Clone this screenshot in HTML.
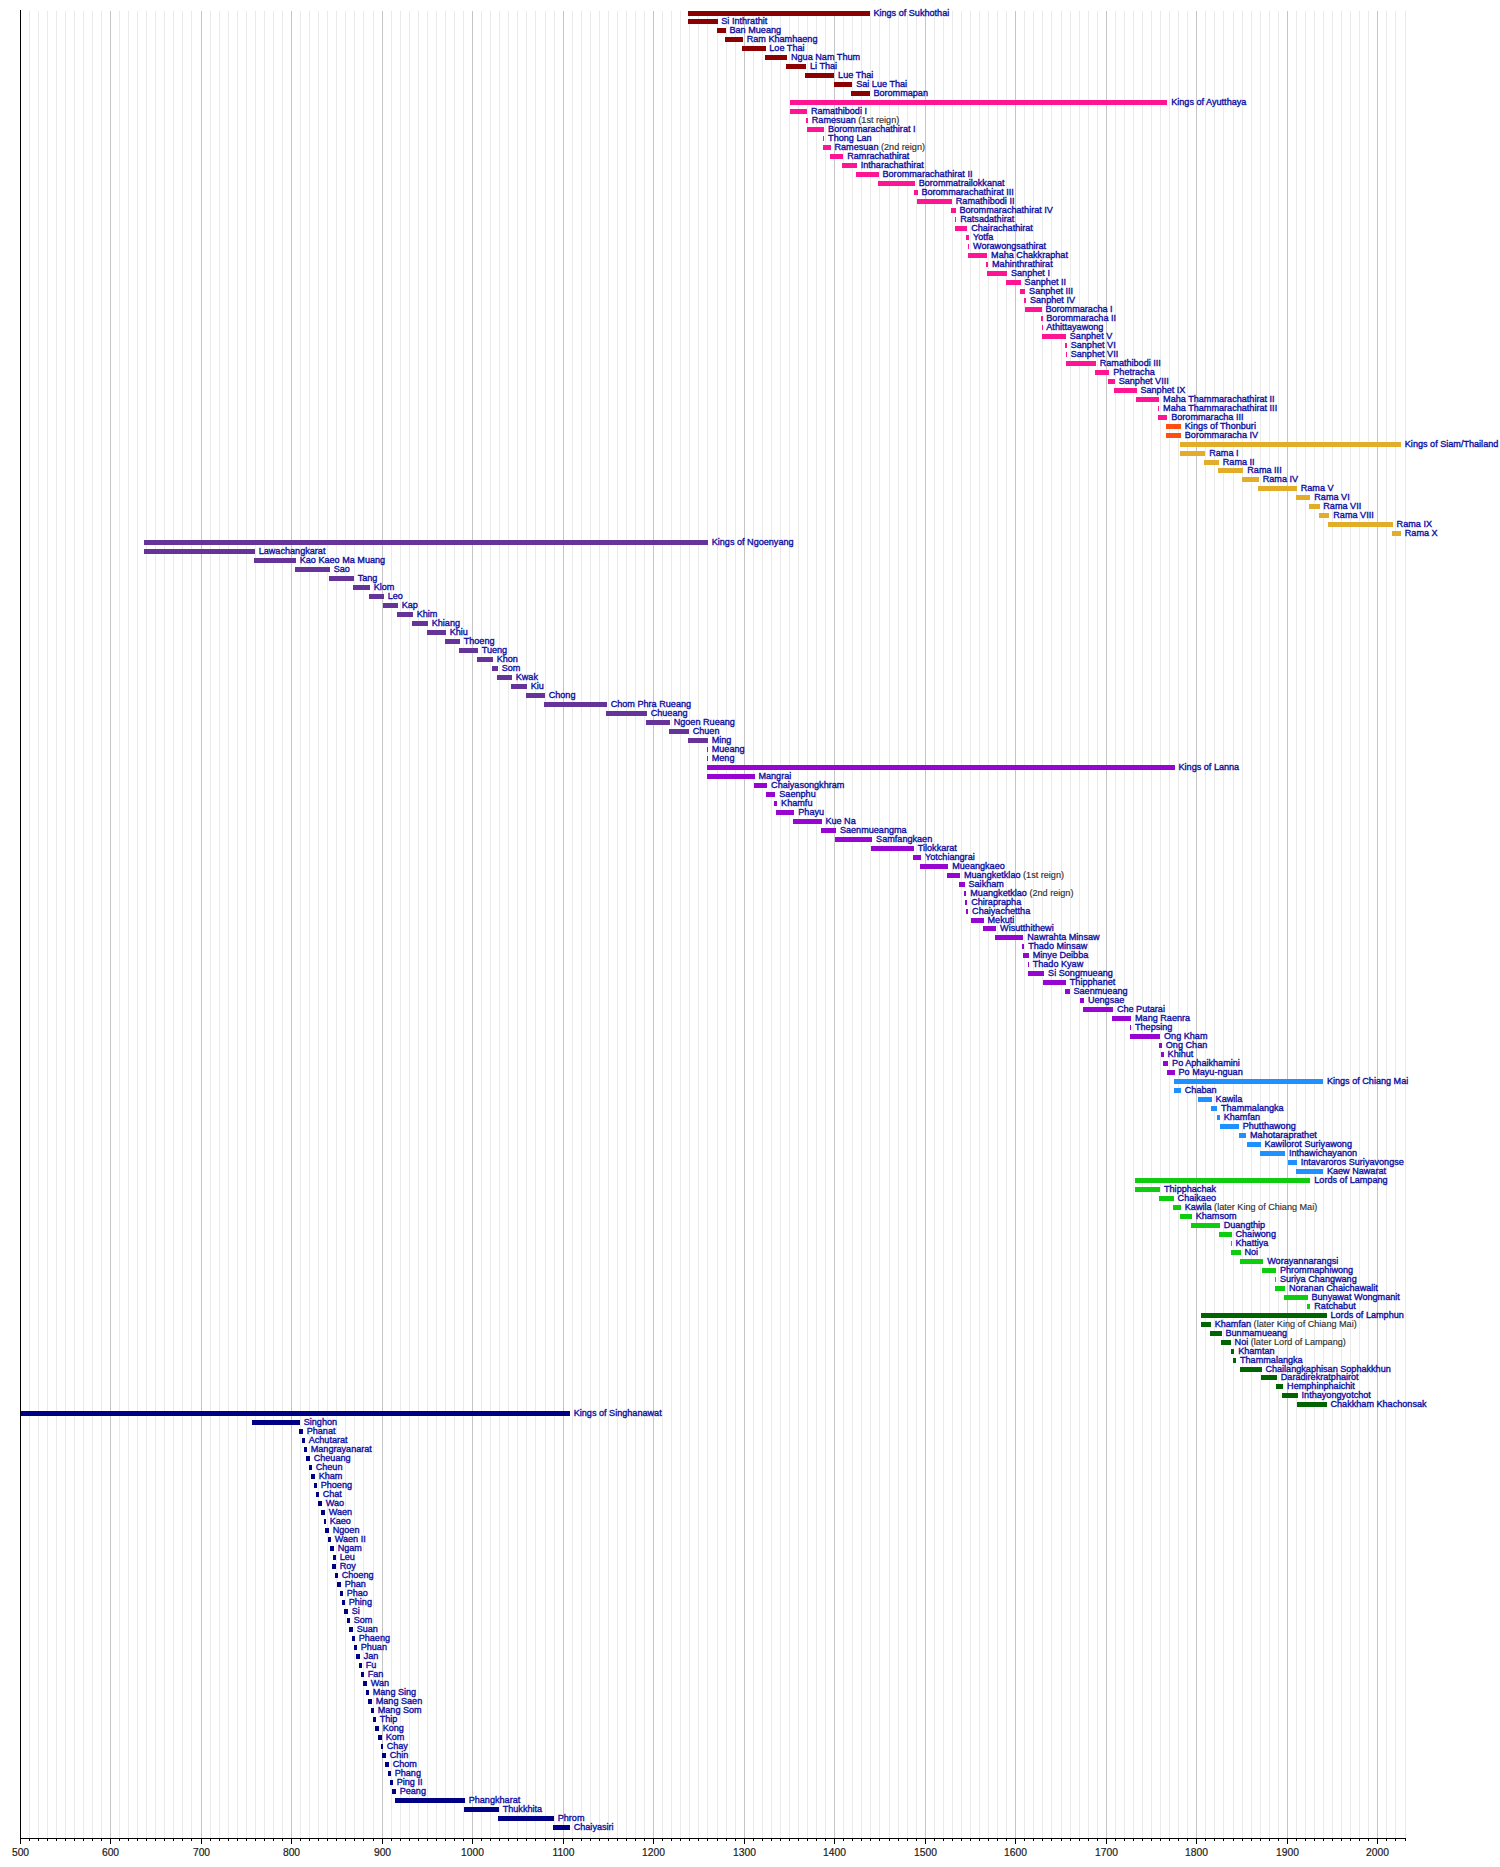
<!DOCTYPE html>
<html lang="en"><head><meta charset="utf-8"><title>Timeline of Thai monarchs</title>
<style>html,body{margin:0;padding:0;background:#fff}svg{display:block}.l{font-family:"Liberation Sans",Arial,Helvetica,sans-serif;font-size:9.1px;fill:#0e0ea0;stroke:#0e0ea0;stroke-width:0.35px}.g{fill:#303030;stroke:#303030;stroke-width:0.15px}.a{font-family:"Liberation Sans",Arial,Helvetica,sans-serif;font-size:10.3px;fill:#1c1c1c;stroke:#1c1c1c;stroke-width:0.2px;text-anchor:middle}</style></head><body>
<svg width="1500" height="1867" viewBox="0 0 1500 1867">
<rect width="1500" height="1867" fill="#fff"/>
<g shape-rendering="crispEdges">
<g fill="#eaeaea"><rect x="29" y="11" width="1" height="1827"/><rect x="38" y="11" width="1" height="1827"/><rect x="47" y="11" width="1" height="1827"/><rect x="56" y="11" width="1" height="1827"/><rect x="65" y="11" width="1" height="1827"/><rect x="74" y="11" width="1" height="1827"/><rect x="83" y="11" width="1" height="1827"/><rect x="92" y="11" width="1" height="1827"/><rect x="101" y="11" width="1" height="1827"/><rect x="119" y="11" width="1" height="1827"/><rect x="128" y="11" width="1" height="1827"/><rect x="137" y="11" width="1" height="1827"/><rect x="146" y="11" width="1" height="1827"/><rect x="155" y="11" width="1" height="1827"/><rect x="164" y="11" width="1" height="1827"/><rect x="173" y="11" width="1" height="1827"/><rect x="182" y="11" width="1" height="1827"/><rect x="191" y="11" width="1" height="1827"/><rect x="210" y="11" width="1" height="1827"/><rect x="219" y="11" width="1" height="1827"/><rect x="228" y="11" width="1" height="1827"/><rect x="237" y="11" width="1" height="1827"/><rect x="246" y="11" width="1" height="1827"/><rect x="255" y="11" width="1" height="1827"/><rect x="264" y="11" width="1" height="1827"/><rect x="273" y="11" width="1" height="1827"/><rect x="282" y="11" width="1" height="1827"/><rect x="300" y="11" width="1" height="1827"/><rect x="309" y="11" width="1" height="1827"/><rect x="318" y="11" width="1" height="1827"/><rect x="327" y="11" width="1" height="1827"/><rect x="336" y="11" width="1" height="1827"/><rect x="345" y="11" width="1" height="1827"/><rect x="354" y="11" width="1" height="1827"/><rect x="363" y="11" width="1" height="1827"/><rect x="373" y="11" width="1" height="1827"/><rect x="391" y="11" width="1" height="1827"/><rect x="400" y="11" width="1" height="1827"/><rect x="409" y="11" width="1" height="1827"/><rect x="418" y="11" width="1" height="1827"/><rect x="427" y="11" width="1" height="1827"/><rect x="436" y="11" width="1" height="1827"/><rect x="445" y="11" width="1" height="1827"/><rect x="454" y="11" width="1" height="1827"/><rect x="463" y="11" width="1" height="1827"/><rect x="481" y="11" width="1" height="1827"/><rect x="490" y="11" width="1" height="1827"/><rect x="499" y="11" width="1" height="1827"/><rect x="508" y="11" width="1" height="1827"/><rect x="517" y="11" width="1" height="1827"/><rect x="526" y="11" width="1" height="1827"/><rect x="535" y="11" width="1" height="1827"/><rect x="545" y="11" width="1" height="1827"/><rect x="554" y="11" width="1" height="1827"/><rect x="572" y="11" width="1" height="1827"/><rect x="581" y="11" width="1" height="1827"/><rect x="590" y="11" width="1" height="1827"/><rect x="599" y="11" width="1" height="1827"/><rect x="608" y="11" width="1" height="1827"/><rect x="617" y="11" width="1" height="1827"/><rect x="626" y="11" width="1" height="1827"/><rect x="635" y="11" width="1" height="1827"/><rect x="644" y="11" width="1" height="1827"/><rect x="662" y="11" width="1" height="1827"/><rect x="671" y="11" width="1" height="1827"/><rect x="680" y="11" width="1" height="1827"/><rect x="689" y="11" width="1" height="1827"/><rect x="698" y="11" width="1" height="1827"/><rect x="707" y="11" width="1" height="1827"/><rect x="717" y="11" width="1" height="1827"/><rect x="726" y="11" width="1" height="1827"/><rect x="735" y="11" width="1" height="1827"/><rect x="753" y="11" width="1" height="1827"/><rect x="762" y="11" width="1" height="1827"/><rect x="771" y="11" width="1" height="1827"/><rect x="780" y="11" width="1" height="1827"/><rect x="789" y="11" width="1" height="1827"/><rect x="798" y="11" width="1" height="1827"/><rect x="807" y="11" width="1" height="1827"/><rect x="816" y="11" width="1" height="1827"/><rect x="825" y="11" width="1" height="1827"/><rect x="843" y="11" width="1" height="1827"/><rect x="852" y="11" width="1" height="1827"/><rect x="861" y="11" width="1" height="1827"/><rect x="870" y="11" width="1" height="1827"/><rect x="879" y="11" width="1" height="1827"/><rect x="889" y="11" width="1" height="1827"/><rect x="898" y="11" width="1" height="1827"/><rect x="907" y="11" width="1" height="1827"/><rect x="916" y="11" width="1" height="1827"/><rect x="934" y="11" width="1" height="1827"/><rect x="943" y="11" width="1" height="1827"/><rect x="952" y="11" width="1" height="1827"/><rect x="961" y="11" width="1" height="1827"/><rect x="970" y="11" width="1" height="1827"/><rect x="979" y="11" width="1" height="1827"/><rect x="988" y="11" width="1" height="1827"/><rect x="997" y="11" width="1" height="1827"/><rect x="1006" y="11" width="1" height="1827"/><rect x="1024" y="11" width="1" height="1827"/><rect x="1033" y="11" width="1" height="1827"/><rect x="1042" y="11" width="1" height="1827"/><rect x="1051" y="11" width="1" height="1827"/><rect x="1061" y="11" width="1" height="1827"/><rect x="1070" y="11" width="1" height="1827"/><rect x="1079" y="11" width="1" height="1827"/><rect x="1088" y="11" width="1" height="1827"/><rect x="1097" y="11" width="1" height="1827"/><rect x="1115" y="11" width="1" height="1827"/><rect x="1124" y="11" width="1" height="1827"/><rect x="1133" y="11" width="1" height="1827"/><rect x="1142" y="11" width="1" height="1827"/><rect x="1151" y="11" width="1" height="1827"/><rect x="1160" y="11" width="1" height="1827"/><rect x="1169" y="11" width="1" height="1827"/><rect x="1178" y="11" width="1" height="1827"/><rect x="1187" y="11" width="1" height="1827"/><rect x="1205" y="11" width="1" height="1827"/><rect x="1214" y="11" width="1" height="1827"/><rect x="1223" y="11" width="1" height="1827"/><rect x="1233" y="11" width="1" height="1827"/><rect x="1242" y="11" width="1" height="1827"/><rect x="1251" y="11" width="1" height="1827"/><rect x="1260" y="11" width="1" height="1827"/><rect x="1269" y="11" width="1" height="1827"/><rect x="1278" y="11" width="1" height="1827"/><rect x="1296" y="11" width="1" height="1827"/><rect x="1305" y="11" width="1" height="1827"/><rect x="1314" y="11" width="1" height="1827"/><rect x="1323" y="11" width="1" height="1827"/><rect x="1332" y="11" width="1" height="1827"/><rect x="1341" y="11" width="1" height="1827"/><rect x="1350" y="11" width="1" height="1827"/><rect x="1359" y="11" width="1" height="1827"/><rect x="1368" y="11" width="1" height="1827"/><rect x="1386" y="11" width="1" height="1827"/><rect x="1395" y="11" width="1" height="1827"/><rect x="1405" y="11" width="1" height="1827"/></g>
<g fill="#c5c5c5"><rect x="110" y="11" width="1" height="1827"/><rect x="201" y="11" width="1" height="1827"/><rect x="291" y="11" width="1" height="1827"/><rect x="382" y="11" width="1" height="1827"/><rect x="472" y="11" width="1" height="1827"/><rect x="563" y="11" width="1" height="1827"/><rect x="653" y="11" width="1" height="1827"/><rect x="744" y="11" width="1" height="1827"/><rect x="834" y="11" width="1" height="1827"/><rect x="925" y="11" width="1" height="1827"/><rect x="1015" y="11" width="1" height="1827"/><rect x="1106" y="11" width="1" height="1827"/><rect x="1196" y="11" width="1" height="1827"/><rect x="1287" y="11" width="1" height="1827"/><rect x="1377" y="11" width="1" height="1827"/></g>
<rect x="688" y="11" width="182" height="5" fill="#8b0000"/>
<rect x="688" y="19" width="30" height="5" fill="#8b0000"/>
<rect x="717" y="28" width="9" height="5" fill="#8b0000"/>
<rect x="725" y="37" width="18" height="5" fill="#8b0000"/>
<rect x="742" y="46" width="24" height="5" fill="#8b0000"/>
<rect x="765" y="55" width="22" height="5" fill="#8b0000"/>
<rect x="786" y="64" width="20" height="5" fill="#8b0000"/>
<rect x="805" y="73" width="29" height="5" fill="#8b0000"/>
<rect x="834" y="82" width="18" height="5" fill="#8b0000"/>
<rect x="851" y="91" width="19" height="5" fill="#8b0000"/>
<rect x="790" y="100" width="377" height="5" fill="#ff1493"/>
<rect x="790" y="109" width="17" height="5" fill="#ff1493"/>
<rect x="806" y="118" width="2" height="5" fill="#ff1493"/>
<rect x="807" y="127" width="17" height="5" fill="#ff1493"/>
<rect x="823" y="136" width="1" height="5" fill="#ff1493"/>
<rect x="823" y="145" width="8" height="5" fill="#ff1493"/>
<rect x="830" y="154" width="13" height="5" fill="#ff1493"/>
<rect x="842" y="163" width="15" height="5" fill="#ff1493"/>
<rect x="856" y="172" width="23" height="5" fill="#ff1493"/>
<rect x="878" y="181" width="37" height="5" fill="#ff1493"/>
<rect x="914" y="190" width="4" height="5" fill="#ff1493"/>
<rect x="917" y="199" width="35" height="5" fill="#ff1493"/>
<rect x="951" y="208" width="5" height="5" fill="#ff1493"/>
<rect x="955" y="217" width="1" height="5" fill="#ff1493"/>
<rect x="955" y="226" width="12" height="5" fill="#ff1493"/>
<rect x="966" y="235" width="3" height="5" fill="#ff1493"/>
<rect x="968" y="244" width="1" height="5" fill="#ff1493"/>
<rect x="968" y="253" width="19" height="5" fill="#ff1493"/>
<rect x="986" y="262" width="2" height="5" fill="#ff1493"/>
<rect x="987" y="271" width="20" height="5" fill="#ff1493"/>
<rect x="1006" y="280" width="15" height="5" fill="#ff1493"/>
<rect x="1020" y="289" width="5" height="5" fill="#ff1493"/>
<rect x="1024" y="298" width="2" height="5" fill="#ff1493"/>
<rect x="1025" y="307" width="17" height="5" fill="#ff1493"/>
<rect x="1041" y="316" width="2" height="5" fill="#ff1493"/>
<rect x="1042" y="325" width="1" height="5" fill="#ff1493"/>
<rect x="1042" y="334" width="24" height="5" fill="#ff1493"/>
<rect x="1065" y="343" width="2" height="5" fill="#ff1493"/>
<rect x="1066" y="352" width="1" height="5" fill="#ff1493"/>
<rect x="1066" y="361" width="30" height="5" fill="#ff1493"/>
<rect x="1095" y="370" width="14" height="5" fill="#ff1493"/>
<rect x="1108" y="379" width="7" height="5" fill="#ff1493"/>
<rect x="1114" y="388" width="23" height="5" fill="#ff1493"/>
<rect x="1136" y="397" width="23" height="5" fill="#ff1493"/>
<rect x="1158" y="406" width="1" height="5" fill="#ff1493"/>
<rect x="1158" y="415" width="9" height="5" fill="#ff1493"/>
<rect x="1166" y="424" width="15" height="5" fill="#ff4f10"/>
<rect x="1166" y="433" width="15" height="5" fill="#ff4f10"/>
<rect x="1180" y="442" width="221" height="5" fill="#e2ae2a"/>
<rect x="1180" y="451" width="25" height="5" fill="#e2ae2a"/>
<rect x="1204" y="460" width="15" height="5" fill="#e2ae2a"/>
<rect x="1218" y="468" width="25" height="5" fill="#e2ae2a"/>
<rect x="1242" y="477" width="17" height="5" fill="#e2ae2a"/>
<rect x="1258" y="486" width="39" height="5" fill="#e2ae2a"/>
<rect x="1296" y="495" width="14" height="5" fill="#e2ae2a"/>
<rect x="1309" y="504" width="11" height="5" fill="#e2ae2a"/>
<rect x="1319" y="513" width="10" height="5" fill="#e2ae2a"/>
<rect x="1328" y="522" width="65" height="5" fill="#e2ae2a"/>
<rect x="1392" y="531" width="9" height="5" fill="#e2ae2a"/>
<rect x="144" y="540" width="564" height="5" fill="#663399"/>
<rect x="144" y="549" width="111" height="5" fill="#663399"/>
<rect x="254" y="558" width="42" height="5" fill="#663399"/>
<rect x="295" y="567" width="35" height="5" fill="#663399"/>
<rect x="329" y="576" width="25" height="5" fill="#663399"/>
<rect x="353" y="585" width="17" height="5" fill="#663399"/>
<rect x="369" y="594" width="15" height="5" fill="#663399"/>
<rect x="383" y="603" width="15" height="5" fill="#663399"/>
<rect x="397" y="612" width="16" height="5" fill="#663399"/>
<rect x="412" y="621" width="16" height="5" fill="#663399"/>
<rect x="427" y="630" width="19" height="5" fill="#663399"/>
<rect x="445" y="639" width="15" height="5" fill="#663399"/>
<rect x="459" y="648" width="19" height="5" fill="#663399"/>
<rect x="477" y="657" width="16" height="5" fill="#663399"/>
<rect x="492" y="666" width="6" height="5" fill="#663399"/>
<rect x="497" y="675" width="15" height="5" fill="#663399"/>
<rect x="511" y="684" width="16" height="5" fill="#663399"/>
<rect x="526" y="693" width="19" height="5" fill="#663399"/>
<rect x="544" y="702" width="63" height="5" fill="#663399"/>
<rect x="606" y="711" width="41" height="5" fill="#663399"/>
<rect x="646" y="720" width="24" height="5" fill="#663399"/>
<rect x="669" y="729" width="20" height="5" fill="#663399"/>
<rect x="688" y="738" width="20" height="5" fill="#663399"/>
<rect x="707" y="747" width="1" height="5" fill="#663399"/>
<rect x="707" y="756" width="1" height="5" fill="#663399"/>
<rect x="707" y="765" width="468" height="5" fill="#9706d0"/>
<rect x="707" y="774" width="48" height="5" fill="#9706d0"/>
<rect x="754" y="783" width="13" height="5" fill="#9706d0"/>
<rect x="766" y="792" width="9" height="5" fill="#9706d0"/>
<rect x="774" y="801" width="3" height="5" fill="#9706d0"/>
<rect x="776" y="810" width="18" height="5" fill="#9706d0"/>
<rect x="793" y="819" width="29" height="5" fill="#9706d0"/>
<rect x="821" y="828" width="15" height="5" fill="#9706d0"/>
<rect x="835" y="837" width="37" height="5" fill="#9706d0"/>
<rect x="871" y="846" width="43" height="5" fill="#9706d0"/>
<rect x="913" y="855" width="8" height="5" fill="#9706d0"/>
<rect x="920" y="864" width="28" height="5" fill="#9706d0"/>
<rect x="947" y="873" width="13" height="5" fill="#9706d0"/>
<rect x="959" y="882" width="6" height="5" fill="#9706d0"/>
<rect x="964" y="891" width="2" height="5" fill="#9706d0"/>
<rect x="965" y="900" width="2" height="5" fill="#9706d0"/>
<rect x="966" y="909" width="2" height="5" fill="#9706d0"/>
<rect x="971" y="918" width="13" height="5" fill="#9706d0"/>
<rect x="983" y="926" width="13" height="5" fill="#9706d0"/>
<rect x="995" y="935" width="28" height="5" fill="#9706d0"/>
<rect x="1022" y="944" width="2" height="5" fill="#9706d0"/>
<rect x="1023" y="953" width="6" height="5" fill="#9706d0"/>
<rect x="1028" y="962" width="1" height="5" fill="#9706d0"/>
<rect x="1028" y="971" width="16" height="5" fill="#9706d0"/>
<rect x="1043" y="980" width="23" height="5" fill="#9706d0"/>
<rect x="1065" y="989" width="5" height="5" fill="#9706d0"/>
<rect x="1080" y="998" width="4" height="5" fill="#9706d0"/>
<rect x="1083" y="1007" width="30" height="5" fill="#9706d0"/>
<rect x="1112" y="1016" width="19" height="5" fill="#9706d0"/>
<rect x="1130" y="1025" width="1" height="5" fill="#9706d0"/>
<rect x="1130" y="1034" width="30" height="5" fill="#9706d0"/>
<rect x="1159" y="1043" width="3" height="5" fill="#9706d0"/>
<rect x="1161" y="1052" width="3" height="5" fill="#9706d0"/>
<rect x="1163" y="1061" width="5" height="5" fill="#9706d0"/>
<rect x="1167" y="1070" width="8" height="5" fill="#9706d0"/>
<rect x="1174" y="1079" width="149" height="5" fill="#1e90ff"/>
<rect x="1174" y="1088" width="7" height="5" fill="#1e90ff"/>
<rect x="1198" y="1097" width="14" height="5" fill="#1e90ff"/>
<rect x="1211" y="1106" width="6" height="5" fill="#1e90ff"/>
<rect x="1217" y="1115" width="3" height="5" fill="#1e90ff"/>
<rect x="1220" y="1124" width="19" height="5" fill="#1e90ff"/>
<rect x="1239" y="1133" width="7" height="5" fill="#1e90ff"/>
<rect x="1247" y="1142" width="14" height="5" fill="#1e90ff"/>
<rect x="1260" y="1151" width="25" height="5" fill="#1e90ff"/>
<rect x="1288" y="1160" width="9" height="5" fill="#1e90ff"/>
<rect x="1296" y="1169" width="27" height="5" fill="#1e90ff"/>
<rect x="1135" y="1178" width="175" height="5" fill="#10cc10"/>
<rect x="1135" y="1187" width="25" height="5" fill="#10cc10"/>
<rect x="1159" y="1196" width="15" height="5" fill="#10cc10"/>
<rect x="1173" y="1205" width="8" height="5" fill="#10cc10"/>
<rect x="1180" y="1214" width="12" height="5" fill="#10cc10"/>
<rect x="1191" y="1223" width="29" height="5" fill="#10cc10"/>
<rect x="1219" y="1232" width="13" height="5" fill="#10cc10"/>
<rect x="1231" y="1241" width="1" height="5" fill="#10cc10"/>
<rect x="1231" y="1250" width="10" height="5" fill="#10cc10"/>
<rect x="1240" y="1259" width="23" height="5" fill="#10cc10"/>
<rect x="1262" y="1268" width="14" height="5" fill="#10cc10"/>
<rect x="1275" y="1277" width="1" height="5" fill="#10cc10"/>
<rect x="1275" y="1286" width="10" height="5" fill="#10cc10"/>
<rect x="1284" y="1295" width="24" height="5" fill="#10cc10"/>
<rect x="1307" y="1304" width="3" height="5" fill="#10cc10"/>
<rect x="1201" y="1313" width="126" height="5" fill="#006400"/>
<rect x="1201" y="1322" width="10" height="5" fill="#006400"/>
<rect x="1210" y="1331" width="12" height="5" fill="#006400"/>
<rect x="1221" y="1340" width="10" height="5" fill="#006400"/>
<rect x="1231" y="1349" width="3" height="5" fill="#006400"/>
<rect x="1233" y="1358" width="3" height="5" fill="#006400"/>
<rect x="1240" y="1367" width="22" height="5" fill="#006400"/>
<rect x="1261" y="1375" width="16" height="5" fill="#006400"/>
<rect x="1276" y="1384" width="7" height="5" fill="#006400"/>
<rect x="1282" y="1393" width="16" height="5" fill="#006400"/>
<rect x="1297" y="1402" width="30" height="5" fill="#006400"/>
<rect x="20" y="1411" width="550" height="5" fill="#000084"/>
<rect x="252" y="1420" width="48" height="5" fill="#000084"/>
<rect x="299" y="1429" width="4" height="5" fill="#000084"/>
<rect x="302" y="1438" width="3" height="5" fill="#000084"/>
<rect x="304" y="1447" width="3" height="5" fill="#000084"/>
<rect x="306" y="1456" width="4" height="5" fill="#000084"/>
<rect x="309" y="1465" width="3" height="5" fill="#000084"/>
<rect x="311" y="1474" width="4" height="5" fill="#000084"/>
<rect x="314" y="1483" width="3" height="5" fill="#000084"/>
<rect x="316" y="1492" width="3" height="5" fill="#000084"/>
<rect x="318" y="1501" width="4" height="5" fill="#000084"/>
<rect x="321" y="1510" width="4" height="5" fill="#000084"/>
<rect x="324" y="1519" width="2" height="5" fill="#000084"/>
<rect x="325" y="1528" width="4" height="5" fill="#000084"/>
<rect x="328" y="1537" width="3" height="5" fill="#000084"/>
<rect x="330" y="1546" width="4" height="5" fill="#000084"/>
<rect x="333" y="1555" width="3" height="5" fill="#000084"/>
<rect x="332" y="1564" width="4" height="5" fill="#000084"/>
<rect x="335" y="1573" width="3" height="5" fill="#000084"/>
<rect x="337" y="1582" width="4" height="5" fill="#000084"/>
<rect x="340" y="1591" width="3" height="5" fill="#000084"/>
<rect x="342" y="1600" width="3" height="5" fill="#000084"/>
<rect x="344" y="1609" width="4" height="5" fill="#000084"/>
<rect x="347" y="1618" width="3" height="5" fill="#000084"/>
<rect x="349" y="1627" width="4" height="5" fill="#000084"/>
<rect x="352" y="1636" width="3" height="5" fill="#000084"/>
<rect x="354" y="1645" width="3" height="5" fill="#000084"/>
<rect x="356" y="1654" width="4" height="5" fill="#000084"/>
<rect x="359" y="1663" width="3" height="5" fill="#000084"/>
<rect x="361" y="1672" width="3" height="5" fill="#000084"/>
<rect x="363" y="1681" width="4" height="5" fill="#000084"/>
<rect x="366" y="1690" width="3" height="5" fill="#000084"/>
<rect x="368" y="1699" width="4" height="5" fill="#000084"/>
<rect x="371" y="1708" width="3" height="5" fill="#000084"/>
<rect x="373" y="1717" width="3" height="5" fill="#000084"/>
<rect x="375" y="1726" width="4" height="5" fill="#000084"/>
<rect x="378" y="1735" width="4" height="5" fill="#000084"/>
<rect x="381" y="1744" width="2" height="5" fill="#000084"/>
<rect x="382" y="1753" width="4" height="5" fill="#000084"/>
<rect x="385" y="1762" width="4" height="5" fill="#000084"/>
<rect x="388" y="1771" width="3" height="5" fill="#000084"/>
<rect x="390" y="1780" width="3" height="5" fill="#000084"/>
<rect x="392" y="1789" width="4" height="5" fill="#000084"/>
<rect x="395" y="1798" width="70" height="5" fill="#000084"/>
<rect x="464" y="1807" width="35" height="5" fill="#000084"/>
<rect x="498" y="1816" width="56" height="5" fill="#000084"/>
<rect x="553" y="1825" width="17" height="5" fill="#000084"/>
<rect x="20" y="10" width="1" height="1829" fill="#000"/>
<rect x="20" y="1838" width="1386" height="1" fill="#000"/>
<rect x="20" y="1839" width="1" height="5" fill="#000"/>
<rect x="29" y="1839" width="1" height="2" fill="#000"/>
<rect x="38" y="1839" width="1" height="2" fill="#000"/>
<rect x="47" y="1839" width="1" height="2" fill="#000"/>
<rect x="56" y="1839" width="1" height="2" fill="#000"/>
<rect x="65" y="1839" width="1" height="2" fill="#000"/>
<rect x="74" y="1839" width="1" height="2" fill="#000"/>
<rect x="83" y="1839" width="1" height="2" fill="#000"/>
<rect x="92" y="1839" width="1" height="2" fill="#000"/>
<rect x="101" y="1839" width="1" height="2" fill="#000"/>
<rect x="110" y="1839" width="1" height="5" fill="#000"/>
<rect x="119" y="1839" width="1" height="2" fill="#000"/>
<rect x="128" y="1839" width="1" height="2" fill="#000"/>
<rect x="137" y="1839" width="1" height="2" fill="#000"/>
<rect x="146" y="1839" width="1" height="2" fill="#000"/>
<rect x="155" y="1839" width="1" height="2" fill="#000"/>
<rect x="164" y="1839" width="1" height="2" fill="#000"/>
<rect x="173" y="1839" width="1" height="2" fill="#000"/>
<rect x="182" y="1839" width="1" height="2" fill="#000"/>
<rect x="191" y="1839" width="1" height="2" fill="#000"/>
<rect x="201" y="1839" width="1" height="5" fill="#000"/>
<rect x="210" y="1839" width="1" height="2" fill="#000"/>
<rect x="219" y="1839" width="1" height="2" fill="#000"/>
<rect x="228" y="1839" width="1" height="2" fill="#000"/>
<rect x="237" y="1839" width="1" height="2" fill="#000"/>
<rect x="246" y="1839" width="1" height="2" fill="#000"/>
<rect x="255" y="1839" width="1" height="2" fill="#000"/>
<rect x="264" y="1839" width="1" height="2" fill="#000"/>
<rect x="273" y="1839" width="1" height="2" fill="#000"/>
<rect x="282" y="1839" width="1" height="2" fill="#000"/>
<rect x="291" y="1839" width="1" height="5" fill="#000"/>
<rect x="300" y="1839" width="1" height="2" fill="#000"/>
<rect x="309" y="1839" width="1" height="2" fill="#000"/>
<rect x="318" y="1839" width="1" height="2" fill="#000"/>
<rect x="327" y="1839" width="1" height="2" fill="#000"/>
<rect x="336" y="1839" width="1" height="2" fill="#000"/>
<rect x="345" y="1839" width="1" height="2" fill="#000"/>
<rect x="354" y="1839" width="1" height="2" fill="#000"/>
<rect x="363" y="1839" width="1" height="2" fill="#000"/>
<rect x="373" y="1839" width="1" height="2" fill="#000"/>
<rect x="382" y="1839" width="1" height="5" fill="#000"/>
<rect x="391" y="1839" width="1" height="2" fill="#000"/>
<rect x="400" y="1839" width="1" height="2" fill="#000"/>
<rect x="409" y="1839" width="1" height="2" fill="#000"/>
<rect x="418" y="1839" width="1" height="2" fill="#000"/>
<rect x="427" y="1839" width="1" height="2" fill="#000"/>
<rect x="436" y="1839" width="1" height="2" fill="#000"/>
<rect x="445" y="1839" width="1" height="2" fill="#000"/>
<rect x="454" y="1839" width="1" height="2" fill="#000"/>
<rect x="463" y="1839" width="1" height="2" fill="#000"/>
<rect x="472" y="1839" width="1" height="5" fill="#000"/>
<rect x="481" y="1839" width="1" height="2" fill="#000"/>
<rect x="490" y="1839" width="1" height="2" fill="#000"/>
<rect x="499" y="1839" width="1" height="2" fill="#000"/>
<rect x="508" y="1839" width="1" height="2" fill="#000"/>
<rect x="517" y="1839" width="1" height="2" fill="#000"/>
<rect x="526" y="1839" width="1" height="2" fill="#000"/>
<rect x="535" y="1839" width="1" height="2" fill="#000"/>
<rect x="545" y="1839" width="1" height="2" fill="#000"/>
<rect x="554" y="1839" width="1" height="2" fill="#000"/>
<rect x="563" y="1839" width="1" height="5" fill="#000"/>
<rect x="572" y="1839" width="1" height="2" fill="#000"/>
<rect x="581" y="1839" width="1" height="2" fill="#000"/>
<rect x="590" y="1839" width="1" height="2" fill="#000"/>
<rect x="599" y="1839" width="1" height="2" fill="#000"/>
<rect x="608" y="1839" width="1" height="2" fill="#000"/>
<rect x="617" y="1839" width="1" height="2" fill="#000"/>
<rect x="626" y="1839" width="1" height="2" fill="#000"/>
<rect x="635" y="1839" width="1" height="2" fill="#000"/>
<rect x="644" y="1839" width="1" height="2" fill="#000"/>
<rect x="653" y="1839" width="1" height="5" fill="#000"/>
<rect x="662" y="1839" width="1" height="2" fill="#000"/>
<rect x="671" y="1839" width="1" height="2" fill="#000"/>
<rect x="680" y="1839" width="1" height="2" fill="#000"/>
<rect x="689" y="1839" width="1" height="2" fill="#000"/>
<rect x="698" y="1839" width="1" height="2" fill="#000"/>
<rect x="707" y="1839" width="1" height="2" fill="#000"/>
<rect x="717" y="1839" width="1" height="2" fill="#000"/>
<rect x="726" y="1839" width="1" height="2" fill="#000"/>
<rect x="735" y="1839" width="1" height="2" fill="#000"/>
<rect x="744" y="1839" width="1" height="5" fill="#000"/>
<rect x="753" y="1839" width="1" height="2" fill="#000"/>
<rect x="762" y="1839" width="1" height="2" fill="#000"/>
<rect x="771" y="1839" width="1" height="2" fill="#000"/>
<rect x="780" y="1839" width="1" height="2" fill="#000"/>
<rect x="789" y="1839" width="1" height="2" fill="#000"/>
<rect x="798" y="1839" width="1" height="2" fill="#000"/>
<rect x="807" y="1839" width="1" height="2" fill="#000"/>
<rect x="816" y="1839" width="1" height="2" fill="#000"/>
<rect x="825" y="1839" width="1" height="2" fill="#000"/>
<rect x="834" y="1839" width="1" height="5" fill="#000"/>
<rect x="843" y="1839" width="1" height="2" fill="#000"/>
<rect x="852" y="1839" width="1" height="2" fill="#000"/>
<rect x="861" y="1839" width="1" height="2" fill="#000"/>
<rect x="870" y="1839" width="1" height="2" fill="#000"/>
<rect x="879" y="1839" width="1" height="2" fill="#000"/>
<rect x="889" y="1839" width="1" height="2" fill="#000"/>
<rect x="898" y="1839" width="1" height="2" fill="#000"/>
<rect x="907" y="1839" width="1" height="2" fill="#000"/>
<rect x="916" y="1839" width="1" height="2" fill="#000"/>
<rect x="925" y="1839" width="1" height="5" fill="#000"/>
<rect x="934" y="1839" width="1" height="2" fill="#000"/>
<rect x="943" y="1839" width="1" height="2" fill="#000"/>
<rect x="952" y="1839" width="1" height="2" fill="#000"/>
<rect x="961" y="1839" width="1" height="2" fill="#000"/>
<rect x="970" y="1839" width="1" height="2" fill="#000"/>
<rect x="979" y="1839" width="1" height="2" fill="#000"/>
<rect x="988" y="1839" width="1" height="2" fill="#000"/>
<rect x="997" y="1839" width="1" height="2" fill="#000"/>
<rect x="1006" y="1839" width="1" height="2" fill="#000"/>
<rect x="1015" y="1839" width="1" height="5" fill="#000"/>
<rect x="1024" y="1839" width="1" height="2" fill="#000"/>
<rect x="1033" y="1839" width="1" height="2" fill="#000"/>
<rect x="1042" y="1839" width="1" height="2" fill="#000"/>
<rect x="1051" y="1839" width="1" height="2" fill="#000"/>
<rect x="1061" y="1839" width="1" height="2" fill="#000"/>
<rect x="1070" y="1839" width="1" height="2" fill="#000"/>
<rect x="1079" y="1839" width="1" height="2" fill="#000"/>
<rect x="1088" y="1839" width="1" height="2" fill="#000"/>
<rect x="1097" y="1839" width="1" height="2" fill="#000"/>
<rect x="1106" y="1839" width="1" height="5" fill="#000"/>
<rect x="1115" y="1839" width="1" height="2" fill="#000"/>
<rect x="1124" y="1839" width="1" height="2" fill="#000"/>
<rect x="1133" y="1839" width="1" height="2" fill="#000"/>
<rect x="1142" y="1839" width="1" height="2" fill="#000"/>
<rect x="1151" y="1839" width="1" height="2" fill="#000"/>
<rect x="1160" y="1839" width="1" height="2" fill="#000"/>
<rect x="1169" y="1839" width="1" height="2" fill="#000"/>
<rect x="1178" y="1839" width="1" height="2" fill="#000"/>
<rect x="1187" y="1839" width="1" height="2" fill="#000"/>
<rect x="1196" y="1839" width="1" height="5" fill="#000"/>
<rect x="1205" y="1839" width="1" height="2" fill="#000"/>
<rect x="1214" y="1839" width="1" height="2" fill="#000"/>
<rect x="1223" y="1839" width="1" height="2" fill="#000"/>
<rect x="1233" y="1839" width="1" height="2" fill="#000"/>
<rect x="1242" y="1839" width="1" height="2" fill="#000"/>
<rect x="1251" y="1839" width="1" height="2" fill="#000"/>
<rect x="1260" y="1839" width="1" height="2" fill="#000"/>
<rect x="1269" y="1839" width="1" height="2" fill="#000"/>
<rect x="1278" y="1839" width="1" height="2" fill="#000"/>
<rect x="1287" y="1839" width="1" height="5" fill="#000"/>
<rect x="1296" y="1839" width="1" height="2" fill="#000"/>
<rect x="1305" y="1839" width="1" height="2" fill="#000"/>
<rect x="1314" y="1839" width="1" height="2" fill="#000"/>
<rect x="1323" y="1839" width="1" height="2" fill="#000"/>
<rect x="1332" y="1839" width="1" height="2" fill="#000"/>
<rect x="1341" y="1839" width="1" height="2" fill="#000"/>
<rect x="1350" y="1839" width="1" height="2" fill="#000"/>
<rect x="1359" y="1839" width="1" height="2" fill="#000"/>
<rect x="1368" y="1839" width="1" height="2" fill="#000"/>
<rect x="1377" y="1839" width="1" height="5" fill="#000"/>
<rect x="1386" y="1839" width="1" height="2" fill="#000"/>
<rect x="1395" y="1839" width="1" height="2" fill="#000"/>
<rect x="1405" y="1839" width="1" height="2" fill="#000"/>
</g>
<text class="l" x="873.4" y="15.9">Kings of Sukhothai</text>
<text class="l" x="721.3" y="23.9">Si Inthrathit</text>
<text class="l" x="729.5" y="32.9">Ban Mueang</text>
<text class="l" x="746.7" y="41.9">Ram Khamhaeng</text>
<text class="l" x="769.3" y="50.9">Loe Thai</text>
<text class="l" x="791.0" y="59.9">Ngua Nam Thum</text>
<text class="l" x="810.0" y="68.9">Li Thai</text>
<text class="l" x="838.1" y="77.9">Lue Thai</text>
<text class="l" x="856.2" y="86.9">Sai Lue Thai</text>
<text class="l" x="873.4" y="95.9">Borommapan</text>
<text class="l" x="1171.2" y="104.9">Kings of Ayutthaya</text>
<text class="l" x="810.9" y="113.9">Ramathibodi I</text>
<text class="l" x="811.8" y="122.9">Ramesuan<tspan class="g"> (1st reign)</tspan></text>
<text class="l" x="828.1" y="131.9">Borommarachathirat I</text>
<text class="l" x="828.1" y="140.9">Thong Lan</text>
<text class="l" x="834.5" y="149.9">Ramesuan<tspan class="g"> (2nd reign)</tspan></text>
<text class="l" x="847.2" y="158.9">Ramrachathirat</text>
<text class="l" x="860.7" y="167.9">Intharachathirat</text>
<text class="l" x="882.5" y="176.9">Borommarachathirat II</text>
<text class="l" x="918.7" y="185.9">Borommatrailokkanat</text>
<text class="l" x="921.4" y="194.9">Borommarachathirat III</text>
<text class="l" x="955.8" y="203.9">Ramathibodi II</text>
<text class="l" x="959.4" y="212.9">Borommarachathirat IV</text>
<text class="l" x="960.2" y="221.9">Ratsadathirat</text>
<text class="l" x="971.2" y="230.9">Chairachathirat</text>
<text class="l" x="973.0" y="239.9">Yotfa</text>
<text class="l" x="973.0" y="248.9">Worawongsathirat</text>
<text class="l" x="991.1" y="257.9">Maha Chakkraphat</text>
<text class="l" x="992.0" y="266.9">Mahinthrathirat</text>
<text class="l" x="1011.0" y="275.9">Sanphet I</text>
<text class="l" x="1024.6" y="284.9">Sanphet II</text>
<text class="l" x="1029.1" y="293.9">Sanphet III</text>
<text class="l" x="1030.0" y="302.9">Sanphet IV</text>
<text class="l" x="1045.4" y="311.9">Borommaracha I</text>
<text class="l" x="1046.3" y="320.9">Borommaracha II</text>
<text class="l" x="1046.3" y="329.9">Athittayawong</text>
<text class="l" x="1069.8" y="338.9">Sanphet V</text>
<text class="l" x="1070.7" y="347.9">Sanphet VI</text>
<text class="l" x="1070.7" y="356.9">Sanphet VII</text>
<text class="l" x="1099.7" y="365.9">Ramathibodi III</text>
<text class="l" x="1113.3" y="374.9">Phetracha</text>
<text class="l" x="1118.7" y="383.9">Sanphet VIII</text>
<text class="l" x="1140.4" y="392.9">Sanphet IX</text>
<text class="l" x="1163.1" y="401.9">Maha Thammarachathirat II</text>
<text class="l" x="1163.1" y="410.9">Maha Thammarachathirat III</text>
<text class="l" x="1171.2" y="419.9">Borommaracha III</text>
<text class="l" x="1184.8" y="428.9">Kings of Thonburi</text>
<text class="l" x="1184.8" y="437.9">Borommaracha IV</text>
<text class="l" x="1404.8" y="446.9">Kings of Siam/Thailand</text>
<text class="l" x="1209.2" y="455.9">Rama I</text>
<text class="l" x="1222.8" y="464.9">Rama II</text>
<text class="l" x="1247.3" y="472.9">Rama III</text>
<text class="l" x="1262.7" y="481.9">Rama IV</text>
<text class="l" x="1300.7" y="490.9">Rama V</text>
<text class="l" x="1314.3" y="499.9">Rama VI</text>
<text class="l" x="1323.3" y="508.9">Rama VII</text>
<text class="l" x="1333.3" y="517.9">Rama VIII</text>
<text class="l" x="1396.6" y="526.9">Rama IX</text>
<text class="l" x="1404.8" y="535.9">Rama X</text>
<text class="l" x="711.7" y="544.9">Kings of Ngoenyang</text>
<text class="l" x="258.7" y="553.9">Lawachangkarat</text>
<text class="l" x="299.7" y="562.9">Kao Kaeo Ma Muang</text>
<text class="l" x="333.7" y="571.9">Sao</text>
<text class="l" x="357.7" y="580.9">Tang</text>
<text class="l" x="373.7" y="589.9">Klom</text>
<text class="l" x="387.7" y="598.9">Leo</text>
<text class="l" x="401.7" y="607.9">Kap</text>
<text class="l" x="416.7" y="616.9">Khim</text>
<text class="l" x="431.7" y="625.9">Khiang</text>
<text class="l" x="449.7" y="634.9">Khiu</text>
<text class="l" x="463.7" y="643.9">Thoeng</text>
<text class="l" x="481.7" y="652.9">Tueng</text>
<text class="l" x="496.7" y="661.9">Khon</text>
<text class="l" x="501.7" y="670.9">Som</text>
<text class="l" x="515.7" y="679.9">Kwak</text>
<text class="l" x="530.7" y="688.9">Kiu</text>
<text class="l" x="548.7" y="697.9">Chong</text>
<text class="l" x="610.7" y="706.9">Chom Phra Rueang</text>
<text class="l" x="650.7" y="715.9">Chueang</text>
<text class="l" x="673.7" y="724.9">Ngoen Rueang</text>
<text class="l" x="692.7" y="733.9">Chuen</text>
<text class="l" x="711.7" y="742.9">Ming</text>
<text class="l" x="711.7" y="751.9">Mueang</text>
<text class="l" x="711.7" y="760.9">Meng</text>
<text class="l" x="1178.5" y="769.9">Kings of Lanna</text>
<text class="l" x="758.4" y="778.9">Mangrai</text>
<text class="l" x="771.1" y="787.9">Chaiyasongkhram</text>
<text class="l" x="779.3" y="796.9">Saenphu</text>
<text class="l" x="781.1" y="805.9">Khamfu</text>
<text class="l" x="798.3" y="814.9">Phayu</text>
<text class="l" x="825.4" y="823.9">Kue Na</text>
<text class="l" x="839.9" y="832.9">Saenmueangma</text>
<text class="l" x="876.1" y="841.9">Samfangkaen</text>
<text class="l" x="917.8" y="850.9">Tilokkarat</text>
<text class="l" x="925.0" y="859.9">Yotchiangrai</text>
<text class="l" x="952.2" y="868.9">Mueangkaeo</text>
<text class="l" x="963.9" y="877.9">Muangketklao<tspan class="g"> (1st reign)</tspan></text>
<text class="l" x="968.5" y="886.9">Saikham</text>
<text class="l" x="970.3" y="895.9">Muangketklao<tspan class="g"> (2nd reign)</tspan></text>
<text class="l" x="971.2" y="904.9">Chiraprapha</text>
<text class="l" x="972.1" y="913.9">Chaiyachettha</text>
<text class="l" x="987.5" y="922.9">Mekuti</text>
<text class="l" x="1000.1" y="930.9">Wisutthithewi</text>
<text class="l" x="1027.3" y="939.9">Nawrahta Minsaw</text>
<text class="l" x="1028.2" y="948.9">Thado Minsaw</text>
<text class="l" x="1032.7" y="957.9">Minye Deibba</text>
<text class="l" x="1032.7" y="966.9">Thado Kyaw</text>
<text class="l" x="1048.1" y="975.9">Si Songmueang</text>
<text class="l" x="1069.8" y="984.9">Thipphanet</text>
<text class="l" x="1073.5" y="993.9">Saenmueang</text>
<text class="l" x="1087.9" y="1002.9">Uengsae</text>
<text class="l" x="1116.9" y="1011.9">Che Putarai</text>
<text class="l" x="1135.0" y="1020.9">Mang Raenra</text>
<text class="l" x="1135.0" y="1029.9">Thepsing</text>
<text class="l" x="1164.0" y="1038.9">Ong Kham</text>
<text class="l" x="1165.8" y="1047.9">Ong Chan</text>
<text class="l" x="1167.6" y="1056.9">Khihut</text>
<text class="l" x="1172.1" y="1065.9">Po Aphaikhamini</text>
<text class="l" x="1178.5" y="1074.9">Po Mayu-nguan</text>
<text class="l" x="1326.9" y="1083.9">Kings of Chiang Mai</text>
<text class="l" x="1184.8" y="1092.9">Chaban</text>
<text class="l" x="1215.6" y="1101.9">Kawila</text>
<text class="l" x="1221.0" y="1110.9">Thammalangka</text>
<text class="l" x="1223.7" y="1119.9">Khamfan</text>
<text class="l" x="1242.7" y="1128.9">Phutthawong</text>
<text class="l" x="1250.0" y="1137.9">Mahotaraprathet</text>
<text class="l" x="1264.5" y="1146.9">Kawilorot Suriyawong</text>
<text class="l" x="1288.9" y="1155.9">Inthawichayanon</text>
<text class="l" x="1300.7" y="1164.9">Intavaroros Suriyavongse</text>
<text class="l" x="1326.9" y="1173.9">Kaew Nawarat</text>
<text class="l" x="1314.3" y="1182.9">Lords of Lampang</text>
<text class="l" x="1164.0" y="1191.9">Thipphachak</text>
<text class="l" x="1177.6" y="1200.9">Chaikaeo</text>
<text class="l" x="1184.8" y="1209.9">Kawila<tspan class="g"> (later King of Chiang Mai)</tspan></text>
<text class="l" x="1195.7" y="1218.9">Khamsom</text>
<text class="l" x="1223.7" y="1227.9">Duangthip</text>
<text class="l" x="1235.5" y="1236.9">Chaiwong</text>
<text class="l" x="1235.5" y="1245.9">Khattiya</text>
<text class="l" x="1244.5" y="1254.9">Noi</text>
<text class="l" x="1267.2" y="1263.9">Worayannarangsi</text>
<text class="l" x="1279.9" y="1272.9">Phrommaphiwong</text>
<text class="l" x="1279.9" y="1281.9">Suriya Changwang</text>
<text class="l" x="1288.9" y="1290.9">Noranan Chaichawalit</text>
<text class="l" x="1311.5" y="1299.9">Bunyawat Wongmanit</text>
<text class="l" x="1314.3" y="1308.9">Ratchabut</text>
<text class="l" x="1330.5" y="1317.9">Lords of Lamphun</text>
<text class="l" x="1214.7" y="1326.9">Khamfan<tspan class="g"> (later King of Chiang Mai)</tspan></text>
<text class="l" x="1225.5" y="1335.9">Bunmamueang</text>
<text class="l" x="1234.6" y="1344.9">Noi<tspan class="g"> (later Lord of Lampang)</tspan></text>
<text class="l" x="1238.2" y="1353.9">Khamtan</text>
<text class="l" x="1240.0" y="1362.9">Thammalangka</text>
<text class="l" x="1265.4" y="1371.9">Chailangkaphisan Sophakkhun</text>
<text class="l" x="1280.8" y="1379.9">Daradirekratphairot</text>
<text class="l" x="1287.1" y="1388.9">Hemphinphaichit</text>
<text class="l" x="1301.6" y="1397.9">Inthayongyotchot</text>
<text class="l" x="1330.5" y="1406.9">Chakkham Khachonsak</text>
<text class="l" x="573.7" y="1415.9">Kings of Singhanawat</text>
<text class="l" x="303.7" y="1424.9">Singhon</text>
<text class="l" x="306.7" y="1433.9">Phanat</text>
<text class="l" x="308.7" y="1442.9">Achutarat</text>
<text class="l" x="310.7" y="1451.9">Mangrayanarat</text>
<text class="l" x="313.7" y="1460.9">Cheuang</text>
<text class="l" x="315.7" y="1469.9">Cheun</text>
<text class="l" x="318.7" y="1478.9">Kham</text>
<text class="l" x="320.7" y="1487.9">Phoeng</text>
<text class="l" x="322.7" y="1496.9">Chat</text>
<text class="l" x="325.7" y="1505.9">Wao</text>
<text class="l" x="328.7" y="1514.9">Waen</text>
<text class="l" x="329.7" y="1523.9">Kaeo</text>
<text class="l" x="332.7" y="1532.9">Ngoen</text>
<text class="l" x="334.7" y="1541.9">Waen II</text>
<text class="l" x="337.7" y="1550.9">Ngam</text>
<text class="l" x="339.7" y="1559.9">Leu</text>
<text class="l" x="339.7" y="1568.9">Roy</text>
<text class="l" x="341.7" y="1577.9">Choeng</text>
<text class="l" x="344.7" y="1586.9">Phan</text>
<text class="l" x="346.7" y="1595.9">Phao</text>
<text class="l" x="348.7" y="1604.9">Phing</text>
<text class="l" x="351.7" y="1613.9">Si</text>
<text class="l" x="353.7" y="1622.9">Som</text>
<text class="l" x="356.7" y="1631.9">Suan</text>
<text class="l" x="358.7" y="1640.9">Phaeng</text>
<text class="l" x="360.7" y="1649.9">Phuan</text>
<text class="l" x="363.7" y="1658.9">Jan</text>
<text class="l" x="365.7" y="1667.9">Fu</text>
<text class="l" x="367.7" y="1676.9">Fan</text>
<text class="l" x="370.7" y="1685.9">Wan</text>
<text class="l" x="372.7" y="1694.9">Mang Sing</text>
<text class="l" x="375.7" y="1703.9">Mang Saen</text>
<text class="l" x="377.7" y="1712.9">Mang Som</text>
<text class="l" x="379.7" y="1721.9">Thip</text>
<text class="l" x="382.7" y="1730.9">Kong</text>
<text class="l" x="385.7" y="1739.9">Kom</text>
<text class="l" x="386.7" y="1748.9">Chay</text>
<text class="l" x="389.7" y="1757.9">Chin</text>
<text class="l" x="392.7" y="1766.9">Chom</text>
<text class="l" x="394.7" y="1775.9">Phang</text>
<text class="l" x="396.7" y="1784.9">Ping II</text>
<text class="l" x="399.7" y="1793.9">Peang</text>
<text class="l" x="468.7" y="1802.9">Phangkharat</text>
<text class="l" x="502.7" y="1811.9">Thukkhita</text>
<text class="l" x="557.7" y="1820.9">Phrom</text>
<text class="l" x="573.7" y="1829.9">Chaiyasiri</text>
<text class="a" x="20.5" y="1855.6">500</text>
<text class="a" x="110.5" y="1855.6">600</text>
<text class="a" x="201.5" y="1855.6">700</text>
<text class="a" x="291.5" y="1855.6">800</text>
<text class="a" x="382.5" y="1855.6">900</text>
<text class="a" x="472.5" y="1855.6">1000</text>
<text class="a" x="563.5" y="1855.6">1100</text>
<text class="a" x="653.5" y="1855.6">1200</text>
<text class="a" x="744.5" y="1855.6">1300</text>
<text class="a" x="834.5" y="1855.6">1400</text>
<text class="a" x="925.5" y="1855.6">1500</text>
<text class="a" x="1015.5" y="1855.6">1600</text>
<text class="a" x="1106.5" y="1855.6">1700</text>
<text class="a" x="1196.5" y="1855.6">1800</text>
<text class="a" x="1287.5" y="1855.6">1900</text>
<text class="a" x="1377.5" y="1855.6">2000</text>
</svg></body></html>
